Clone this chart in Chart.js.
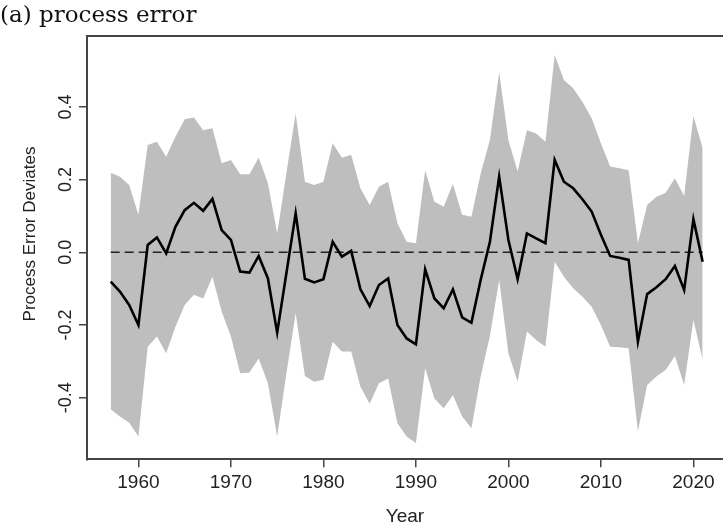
<!DOCTYPE html>
<html>
<head>
<meta charset="utf-8">
<script src="https://cdn.jsdelivr.net/npm/chart.js@4.4.0/dist/chart.umd.min.js"></script>
<style>
  body { margin: 0; background: #fff; }
  #wrap { position: relative; width: 723px; height: 530px; }
  #title { position: absolute; left: 0; top: 1px; font-family: 'DejaVu Serif', serif; font-size: 23px; line-height: 27px; color: #111; }
</style>
</head>
<body>
<div id="wrap">
  <canvas id="chart1" width="723" height="530"></canvas>
  <div id="title">(a) process error</div>
</div>
<script>
const years = [1957, 1958, 1959, 1960, 1961, 1962, 1963, 1964, 1965, 1966,
  1967, 1968, 1969, 1970, 1971, 1972, 1973, 1974, 1975, 1976,
  1977, 1978, 1979, 1980, 1981, 1982, 1983, 1984, 1985, 1986,
  1987, 1988, 1989, 1990, 1991, 1992, 1993, 1994, 1995, 1996,
  1997, 1998, 1999, 2000, 2001, 2002, 2003, 2004, 2005, 2006,
  2007, 2008, 2009, 2010, 2011, 2012, 2013, 2014, 2015, 2016,
  2017, 2018, 2019, 2020, 2021];

const deviates = [-0.081, -0.108, -0.145, -0.200, 0.020, 0.041, -0.003, 0.070, 0.116, 0.136,
  0.114, 0.147, 0.061, 0.034, -0.053, -0.056, -0.010, -0.072, -0.221, -0.057,
  0.107, -0.073, -0.083, -0.074, 0.029, -0.012, 0.004, -0.102, -0.148, -0.090,
  -0.072, -0.200, -0.237, -0.253, -0.047, -0.127, -0.154, -0.102, -0.179, -0.194,
  -0.076, 0.029, 0.208, 0.034, -0.074, 0.052, 0.038, 0.025, 0.254, 0.194,
  0.176, 0.146, 0.112, 0.048, -0.010, -0.015, -0.021, -0.246, -0.115, -0.096,
  -0.074, -0.038, -0.104, 0.091, -0.026];

const upper = [0.219, 0.208, 0.185, 0.103, 0.295, 0.304, 0.263, 0.318, 0.366, 0.371,
  0.336, 0.341, 0.245, 0.254, 0.215, 0.215, 0.261, 0.190, 0.052, 0.218,
  0.382, 0.194, 0.185, 0.194, 0.300, 0.260, 0.268, 0.176, 0.130, 0.180,
  0.194, 0.080, 0.029, 0.025, 0.226, 0.139, 0.125, 0.188, 0.103, 0.098,
  0.217, 0.309, 0.495, 0.309, 0.222, 0.336, 0.327, 0.304, 0.543, 0.474,
  0.451, 0.414, 0.369, 0.300, 0.236, 0.231, 0.226, 0.025, 0.130, 0.153,
  0.164, 0.204, 0.155, 0.375, 0.286];

const lower = [-0.432, -0.452, -0.469, -0.507, -0.260, -0.232, -0.278, -0.205, -0.145, -0.117,
  -0.127, -0.067, -0.163, -0.232, -0.333, -0.331, -0.292, -0.360, -0.507, -0.333,
  -0.168, -0.340, -0.356, -0.351, -0.246, -0.273, -0.273, -0.370, -0.417, -0.360,
  -0.347, -0.470, -0.507, -0.525, -0.319, -0.402, -0.429, -0.393, -0.452, -0.484,
  -0.342, -0.230, -0.076, -0.278, -0.356, -0.218, -0.241, -0.260, -0.026, -0.067,
  -0.099, -0.122, -0.150, -0.200, -0.260, -0.261, -0.264, -0.493, -0.365, -0.342,
  -0.324, -0.285, -0.365, -0.186, -0.296];

const xTicks = [1960, 1970, 1980, 1990, 2000, 2010, 2020];
const yTicks = [-0.4, -0.2, 0.0, 0.2, 0.4];

const axisColor = '#444';
const sans = "'Liberation Sans', Arial, sans-serif";

var pts = function(vals) {
  return years.map(function(y, i) { return { x: y, y: vals[i] }; });
};

// y axis title drawn by hand so it can sit where R put it
var yTitle = {
  id: 'yTitle',
  afterDraw: function(chart) {
    var c = chart.ctx;
    c.save();
    c.translate(30, 234);
    c.rotate(-Math.PI / 2);
    c.font = '17px ' + sans;
    c.fillStyle = '#222';
    c.textAlign = 'center';
    c.textBaseline = 'middle';
    c.fillText('Process Error Deviates', 0, 0);
    c.restore();
  }
};

var ctx = document.getElementById('chart1').getContext('2d');
new Chart(ctx, {
  type: 'line',
  data: {
    datasets: [{
      label: 'deviates',
      data: pts(deviates),
      borderColor: '#000',
      borderWidth: 2.6,
      pointRadius: 0,
      tension: 0,
      fill: false
    }, {
      label: 'zero',
      data: [{ x: years[0], y: 0 }, { x: years[years.length - 1], y: 0 }],
      borderColor: '#222',
      borderWidth: 1.4,
      borderDash: [9, 5],
      pointRadius: 0,
      fill: false
    }, {
      label: 'upper',
      data: pts(upper),
      borderWidth: 0,
      borderColor: 'rgba(0,0,0,0)',
      backgroundColor: '#bebebe',
      pointRadius: 0,
      tension: 0,
      fill: '+1'
    }, {
      label: 'lower',
      data: pts(lower),
      borderWidth: 0,
      borderColor: 'rgba(0,0,0,0)',
      pointRadius: 0,
      tension: 0,
      fill: false
    }]
  },
  options: {
    responsive: false,
    animation: false,
    layout: { padding: { top: 36, left: 0, right: 0, bottom: 0 } },
    plugins: { legend: { display: false }, tooltip: { enabled: false } },
    scales: {
      x: {
        type: 'linear',
        min: 1954.44,
        max: 2023.2,
        afterBuildTicks: function(s) { s.ticks = xTicks.map(function(v) { return { value: v }; }); },
        afterFit: function(s) { s.height = 70.7; },
        grid: { display: true, drawOnChartArea: false, drawTicks: true, tickLength: 8, color: axisColor, lineWidth: 1.5 },
        border: { display: true, color: axisColor, width: 2 },
        ticks: { color: '#222', font: { family: sans, size: 19 }, padding: 4, maxRotation: 0, autoSkip: false,
          callback: function(v) { return String(v); } },
        title: { display: true, text: 'Year', color: '#222', font: { family: sans, size: 19 }, padding: { top: 0, bottom: 2 } }
      },
      xTop: {
        type: 'linear',
        position: 'top',
        min: 1954.44,
        max: 2023.2,
        afterFit: function(s) { s.height = 0; },
        grid: { display: false },
        ticks: { display: false },
        border: { display: true, color: axisColor, width: 2 }
      },
      y: {
        min: -0.5695,
        max: 0.595,
        afterBuildTicks: function(s) { s.ticks = yTicks.map(function(v) { return { value: v }; }); },
        afterFit: function(s) { s.width = 87; },
        grid: { display: true, drawOnChartArea: false, drawTicks: true, tickLength: 8, color: axisColor, lineWidth: 1.5 },
        border: { display: true, color: axisColor, width: 2 },
        ticks: { color: '#222', font: { family: sans, size: 18 }, minRotation: 90, maxRotation: 90, crossAlign: 'center', padding: -3,
          callback: function(v) { return v.toFixed(1); } }
      }
    }
  },
  plugins: [yTitle]
});
</script>
</body>
</html>
